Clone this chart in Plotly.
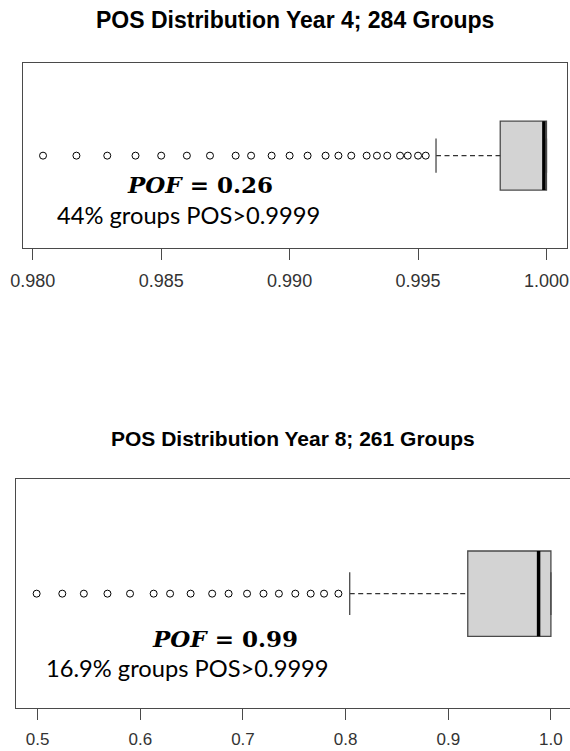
import plotly.graph_objects as go

W, H = 570, 751

# ---------------- data ----------------
titles = ["POS Distribution Year 4; 284 Groups", "POS Distribution Year 8; 261 Groups"]

y4_outliers = [0.9804, 0.9817, 0.9829, 0.9840, 0.9850, 0.9860, 0.9869, 0.9879,
               0.9885, 0.9893, 0.9900, 0.9907, 0.9914, 0.9919, 0.9924, 0.9930,
               0.9934, 0.9938, 0.9943, 0.9946, 0.9950, 0.9953]
y4_stats = {"low": 0.9957, "q1": 0.9982, "median": 0.9999, "q3": 1.0, "high": 1.0}
y4_ticks = [0.980, 0.985, 0.990, 0.995, 1.000]
y4_ticktext = ["0.980", "0.985", "0.990", "0.995", "1.000"]

y8_outliers = [0.499, 0.524, 0.545, 0.568, 0.590, 0.613, 0.629, 0.649, 0.670,
               0.686, 0.704, 0.720, 0.735, 0.751, 0.766, 0.779, 0.793]
y8_stats = {"low": 0.804, "q1": 0.919, "median": 0.988, "q3": 1.0, "high": 1.0}
y8_ticks = [0.5, 0.6, 0.7, 0.8, 0.9, 1.0]
y8_ticktext = ["0.5", "0.6", "0.7", "0.8", "0.9", "1.0"]

pof_labels = ["<b><i>POF</i> = 0.26</b>", "<b><i>POF</i> = 0.99</b>"]
share_labels = ["44% groups POS>0.9999", "16.9% groups POS>0.9999"]

# ---------------- style ----------------
FRAME = "#4a4a4a"
BOXW = 0.746

fig = go.Figure()


def add_panel(outliers, st, xa, ya):
    fig.add_trace(go.Box(
        orientation="h", y=[0], q1=[st["q1"]], median=[st["median"]], q3=[st["q3"]],
        lowerfence=[st["q1"]], upperfence=[st["q3"]], width=BOXW, whiskerwidth=0,
        fillcolor="#d3d3d3", line=dict(color=FRAME, width=1.3),
        boxpoints=False, xaxis=xa, yaxis=ya, showlegend=False, hoverinfo="skip"))
    # dashed whiskers
    for a, b in ((st["low"], st["q1"]), (st["q3"], st["high"])):
        fig.add_trace(go.Scatter(x=[a, b], y=[0, 0], mode="lines",
                                 line=dict(color="#333333", width=1.2, dash="5px,3.5px"),
                                 xaxis=xa, yaxis=ya, showlegend=False, hoverinfo="skip"))
    # staples
    for v in (st["low"], st["high"]):
        fig.add_trace(go.Scatter(x=[v, v], y=[-BOXW / 4, BOXW / 4], mode="lines",
                                 line=dict(color=FRAME, width=1.3),
                                 xaxis=xa, yaxis=ya, showlegend=False, hoverinfo="skip"))
    # median
    fig.add_trace(go.Scatter(x=[st["median"], st["median"]], y=[-BOXW / 2, BOXW / 2],
                             mode="lines", line=dict(color="black", width=3.5),
                             xaxis=xa, yaxis=ya, showlegend=False, hoverinfo="skip"))
    # outliers
    fig.add_trace(go.Scatter(x=outliers, y=[0] * len(outliers), mode="markers",
                             marker=dict(symbol="circle-open", size=7, color="black",
                                         line=dict(width=1)),
                             xaxis=xa, yaxis=ya, showlegend=False, hoverinfo="skip"))


add_panel(y4_outliers, y4_stats, "x", "y")
add_panel(y8_outliers, y8_stats, "x2", "y2")


def xax(dom_px, rng, tv, tt, fs, standoff):
    return dict(domain=[dom_px[0] / W, dom_px[1] / W], range=rng, tickvals=tv, ticktext=tt,
                ticks="outside", ticklen=11, tickwidth=1.3, tickcolor=FRAME,
                showline=True, linecolor=FRAME, linewidth=1.3, mirror=True,
                showgrid=False, zeroline=False, ticklabelstandoff=standoff, automargin=False,
                tickfont=dict(family="Liberation Sans, Arial", size=fs, color="#333333"))


def yax(top_px, bot_px):
    return dict(domain=[1 - bot_px / H, 1 - top_px / H], range=[-1, 1],
                showticklabels=False, ticks="", showline=True, linecolor=FRAME,
                linewidth=1.3, mirror=True, showgrid=False, zeroline=False,
                automargin=False)


# top: 0.980 -> 33.8px, 1.000 -> 546.4px
fig.update_layout(
    xaxis=xax((23.0, 566.5), [0.97962, 1.00078], y4_ticks, y4_ticktext, 18, 5),
    yaxis=yax(63.3, 248),
    xaxis2=dict(xax((16.0, 570.0), [0.4789, 1.0186], y8_ticks, y8_ticktext, 17, 4),
                anchor="y2"),
    yaxis2=dict(yax(479.3, 708), anchor="x2"),
)

ann = []
title_font = dict(family="Liberation Sans, Arial", color="black")
ann.append(dict(text="<b>" + titles[0] + "</b>", x=295.5 / W, y=1 - 20 / H,
                font=dict(title_font, size=23)))
ann.append(dict(text="<b>" + titles[1] + "</b>", x=293 / W, y=1 - 438.5 / H,
                font=dict(title_font, size=21)))
ann.append(dict(text=pof_labels[0], x=200 / W, y=1 - 184.5 / H,
                font=dict(family="DejaVu Serif", size=23, color="black")))
ann.append(dict(text=share_labels[0], x=188.5 / W, y=1 - 215 / H,
                font=dict(family="Lato", size=23.7, color="black")))
ann.append(dict(text=pof_labels[1], x=224.5 / W, y=1 - 638 / H,
                font=dict(family="DejaVu Serif", size=23, color="black")))
ann.append(dict(text=share_labels[1], x=187 / W, y=1 - 668 / H,
                font=dict(family="Lato", size=23.7, color="black")))
for a in ann:
    a.update(xref="paper", yref="paper", xanchor="center", yanchor="middle",
             showarrow=False)

fig.update_layout(width=W, height=H, margin=dict(l=0, r=0, t=0, b=0),
                  paper_bgcolor="white", plot_bgcolor="white", annotations=ann)

fig.write_html("out.html")
